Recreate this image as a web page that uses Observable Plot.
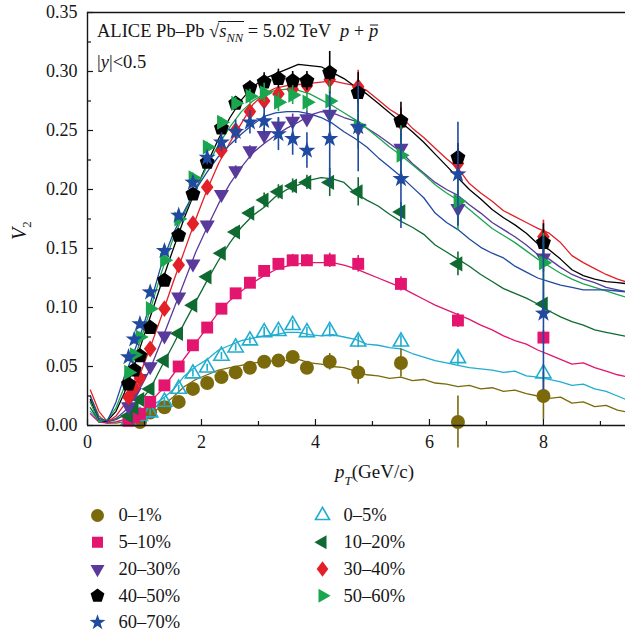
<!DOCTYPE html>
<html>
<head>
<meta charset="utf-8">
<script src="https://cdn.jsdelivr.net/npm/d3@7"></script>
<script src="https://cdn.jsdelivr.net/npm/@observablehq/plot@0.6"></script>
<style>
  body { margin: 0; background: #fff; }
  #chart { width: 625px; }
  #chart svg { display: block; }
</style>
</head>
<body>
<div id="chart"></div>
<script>
const serif = "'Liberation Serif', 'DejaVu Serif', serif";
const ink = "#161616";

// Centrality classes, colours
const labels = ["0–1%", "0–5%", "5–10%", "10–20%", "20–30%", "30–40%", "40–50%", "50–60%", "60–70%"];
const colors = ["#7b6a0b", "#1fadd0", "#e3156f", "#0e6a31", "#59399b", "#e31f27", "#000000", "#1aa64e", "#1f4a9f"];

// pT bin centres of the measured points (GeV/c)
const ptBins = [0.72, 0.82, 0.92, 1.1, 1.35, 1.6, 1.85, 2.1, 2.35, 2.6, 2.85, 3.1, 3.35, 3.6, 3.85, 4.25, 4.75, 5.5, 6.5, 8.0];

// Measured v2 per centrality (null = no point)
const mk01   = [null, null, 0.003, 0.011, 0.0155, 0.020, 0.031, 0.036, 0.041, 0.045, 0.049, 0.054, 0.055, 0.058, 0.049, 0.054, 0.045, 0.053, 0.003, 0.025];
const mk05   = [0.004, null, 0.008, 0.011, 0.020, 0.031, 0.044, 0.049, 0.059, 0.066, 0.072, 0.079, 0.080, 0.085, 0.079, 0.080, 0.071, 0.071, 0.057, 0.044];
const mk510  = [0.004, 0.007, 0.010, 0.020, 0.034, 0.050, 0.068, 0.083, 0.099, 0.112, 0.121, 0.131, 0.137, 0.140, 0.140, 0.140, 0.137, 0.120, 0.089, 0.0745];
const mk1020 = [0.008, 0.015, 0.022, 0.031, 0.055, 0.078, 0.102, 0.126, 0.146, 0.164, 0.180, 0.191, 0.198, 0.203, 0.206, 0.206, 0.198, 0.181, 0.137, 0.103];
const mk2030 = [0.016, 0.028, 0.040, 0.050, 0.076, 0.109, 0.137, 0.170, 0.196, 0.216, 0.233, 0.246, 0.254, 0.258, 0.260, 0.264, 0.252, 0.235, 0.184, 0.142];
const mk3040 = [0.024, 0.032, 0.040, 0.065, 0.099, 0.136, 0.171, 0.202, 0.233, 0.250, 0.266, 0.275, 0.281, 0.285, 0.288, 0.293, 0.287, 0.257, 0.222, 0.160];
const mk4050 = [0.035, 0.047, 0.059, 0.083, 0.123, 0.161, 0.196, 0.223, 0.252, 0.273, 0.286, 0.291, 0.294, 0.292, 0.292, 0.299, 0.282, 0.258, 0.227, 0.155];
const mk5060 = [0.045, 0.060, 0.075, 0.099, 0.140, 0.175, 0.210, 0.236, 0.257, 0.273, 0.279, 0.282, 0.274, 0.280, 0.274, 0.275, 0.254, 0.229, 0.190, 0.138];
const mk6070 = [0.058, 0.073, 0.086, 0.113, 0.148, 0.178, 0.206, 0.227, 0.240, 0.249, 0.257, 0.258, 0.247, 0.243, 0.233, 0.243, 0.253, 0.209, 0.213, 0.095];

// Uncertainties (half length of the error bars)
const er01   = [0.003, 0.003, 0.003, 0.003, 0.003, 0.003, 0.003, 0.003, 0.003, 0.003, 0.004, 0.004, 0.004, 0.005, 0.005, 0.007, 0.010, 0.012, 0.022, 0.020];
const er05   = [0.003, 0.003, 0.003, 0.003, 0.003, 0.003, 0.003, 0.003, 0.003, 0.003, 0.003, 0.004, 0.004, 0.004, 0.004, 0.005, 0.005, 0.005, 0.006, 0.007];
const er510  = [0.003, 0.003, 0.003, 0.003, 0.003, 0.003, 0.003, 0.003, 0.003, 0.003, 0.003, 0.004, 0.004, 0.005, 0.005, 0.006, 0.007, 0.006, 0.006, 0.006];
const er1020 = [0.003, 0.003, 0.003, 0.003, 0.003, 0.003, 0.003, 0.003, 0.003, 0.004, 0.004, 0.006, 0.006, 0.006, 0.006, 0.012, 0.012, 0.008, 0.010, 0.010];
const er2030 = [0.003, 0.003, 0.003, 0.003, 0.003, 0.003, 0.003, 0.003, 0.003, 0.004, 0.004, 0.006, 0.006, 0.006, 0.006, 0.010, 0.012, 0.012, 0.015, 0.012];
const er3040 = [0.003, 0.003, 0.003, 0.003, 0.003, 0.003, 0.003, 0.003, 0.003, 0.004, 0.004, 0.006, 0.006, 0.006, 0.006, 0.010, 0.014, 0.012, 0.013, 0.014];
const er4050 = [0.004, 0.004, 0.004, 0.004, 0.004, 0.004, 0.004, 0.004, 0.004, 0.005, 0.006, 0.008, 0.008, 0.008, 0.008, 0.018, 0.017, 0.016, 0.012, 0.016];
const er5060 = [0.004, 0.004, 0.004, 0.004, 0.004, 0.004, 0.004, 0.004, 0.004, 0.005, 0.006, 0.008, 0.008, 0.008, 0.008, 0.017, 0.020, 0.025, 0.025, 0.025];
const er6070 = [0.004, 0.004, 0.004, 0.004, 0.004, 0.004, 0.005, 0.006, 0.008, 0.010, 0.010, 0.012, 0.014, 0.014, 0.015, 0.040, 0.038, 0.042, 0.044, 0.065];

// Model curves, sampled in pT
const linePt = [0.05, 0.2, 0.35, 0.5, 0.65, 0.8, 0.95, 1.1, 1.3, 1.5, 1.7, 1.9, 2.1, 2.3, 2.5, 2.7, 2.9, 3.1, 3.3, 3.5, 3.7, 3.9, 4.1, 4.3, 4.5, 4.7, 4.9, 5.1, 5.3, 5.5, 5.7, 5.9, 6.1, 6.3, 6.5, 6.7, 6.9, 7.1, 7.3, 7.5, 7.7, 7.9, 8.1, 8.3, 8.5, 8.7, 8.9, 9.1, 9.3, 9.5];
const ln01   = [0.025, 0.008, 0.002, 0.002, 0.003, 0.005, 0.007, 0.010, 0.016, 0.024, 0.033, 0.039, 0.043, 0.047, 0.049, 0.051, 0.053, 0.054, 0.055, 0.055, 0.056, 0.053, 0.052, 0.050, 0.049, 0.046, 0.043, 0.042, 0.040, 0.041, 0.038, 0.039, 0.036, 0.035, 0.033, 0.034, 0.031, 0.032, 0.029, 0.030, 0.027, 0.025, 0.023, 0.024, 0.019, 0.020, 0.016, 0.017, 0.013, 0.011];
const ln05   = [0.012, 0.004, 0.002, 0.003, 0.005, 0.008, 0.012, 0.016, 0.022, 0.030, 0.042, 0.050, 0.056, 0.064, 0.068, 0.072, 0.074, 0.076, 0.077, 0.079, 0.079, 0.077, 0.076, 0.077, 0.075, 0.073, 0.069, 0.068, 0.066, 0.065, 0.061, 0.058, 0.055, 0.053, 0.051, 0.049, 0.048, 0.047, 0.045, 0.046, 0.042, 0.041, 0.039, 0.037, 0.034, 0.035, 0.031, 0.029, 0.025, 0.021];
const ln510  = [0.010, 0.003, 0.002, 0.003, 0.005, 0.008, 0.012, 0.020, 0.030, 0.043, 0.057, 0.070, 0.083, 0.096, 0.106, 0.114, 0.121, 0.127, 0.132, 0.135, 0.137, 0.138, 0.138, 0.138, 0.136, 0.133, 0.129, 0.125, 0.121, 0.117, 0.112, 0.107, 0.102, 0.098, 0.094, 0.090, 0.085, 0.081, 0.076, 0.072, 0.069, 0.064, 0.060, 0.056, 0.052, 0.053, 0.049, 0.046, 0.043, 0.041];
const ln1020 = [0.015, 0.004, 0.003, 0.005, 0.009, 0.015, 0.022, 0.031, 0.050, 0.068, 0.087, 0.105, 0.123, 0.140, 0.155, 0.168, 0.178, 0.185, 0.194, 0.200, 0.204, 0.208, 0.210, 0.209, 0.206, 0.197, 0.191, 0.186, 0.179, 0.173, 0.168, 0.162, 0.153, 0.147, 0.141, 0.135, 0.128, 0.122, 0.116, 0.112, 0.108, 0.103, 0.097, 0.092, 0.088, 0.085, 0.081, 0.079, 0.077, 0.075];
const ln2030 = [0.020, 0.005, 0.003, 0.006, 0.012, 0.022, 0.034, 0.048, 0.072, 0.097, 0.122, 0.147, 0.168, 0.188, 0.205, 0.219, 0.231, 0.239, 0.246, 0.252, 0.257, 0.263, 0.266, 0.265, 0.261, 0.258, 0.252, 0.246, 0.239, 0.232, 0.222, 0.214, 0.206, 0.200, 0.195, 0.187, 0.180, 0.172, 0.166, 0.160, 0.153, 0.145, 0.141, 0.134, 0.128, 0.124, 0.121, 0.117, 0.115, 0.113];
const ln3040 = [0.030, 0.012, 0.003, 0.008, 0.018, 0.030, 0.047, 0.066, 0.093, 0.121, 0.148, 0.175, 0.200, 0.222, 0.240, 0.256, 0.272, 0.281, 0.286, 0.288, 0.289, 0.290, 0.291, 0.292, 0.290, 0.288, 0.284, 0.276, 0.268, 0.262, 0.252, 0.244, 0.235, 0.226, 0.218, 0.205, 0.197, 0.190, 0.182, 0.177, 0.172, 0.167, 0.163, 0.155, 0.144, 0.138, 0.133, 0.128, 0.124, 0.121];
const ln4050 = [0.022, 0.003, 0.004, 0.012, 0.028, 0.048, 0.070, 0.092, 0.121, 0.149, 0.176, 0.200, 0.222, 0.243, 0.261, 0.276, 0.287, 0.294, 0.298, 0.302, 0.306, 0.305, 0.304, 0.299, 0.294, 0.287, 0.281, 0.273, 0.265, 0.257, 0.249, 0.240, 0.230, 0.220, 0.210, 0.200, 0.192, 0.183, 0.176, 0.170, 0.163, 0.154, 0.149, 0.141, 0.132, 0.127, 0.124, 0.122, 0.121, 0.120];
const ln5060 = [0.020, 0.003, 0.005, 0.015, 0.033, 0.053, 0.075, 0.098, 0.130, 0.158, 0.180, 0.200, 0.220, 0.238, 0.253, 0.266, 0.275, 0.281, 0.284, 0.285, 0.284, 0.281, 0.276, 0.271, 0.265, 0.259, 0.252, 0.244, 0.236, 0.229, 0.221, 0.213, 0.204, 0.197, 0.191, 0.183, 0.175, 0.167, 0.161, 0.155, 0.148, 0.141, 0.135, 0.129, 0.124, 0.120, 0.117, 0.114, 0.111, 0.108];
const ln6070 = [0.025, 0.006, 0.004, 0.020, 0.042, 0.060, 0.080, 0.103, 0.137, 0.162, 0.182, 0.200, 0.215, 0.228, 0.238, 0.247, 0.255, 0.262, 0.265, 0.266, 0.266, 0.264, 0.261, 0.256, 0.249, 0.243, 0.236, 0.227, 0.219, 0.211, 0.202, 0.193, 0.180, 0.172, 0.166, 0.158, 0.151, 0.146, 0.142, 0.135, 0.130, 0.125, 0.122, 0.119, 0.117, 0.115, 0.115, 0.115, 0.114, 0.113];

// Axis ticks
const yTicks = [0, 0.05, 0.10, 0.15, 0.20, 0.25, 0.30, 0.35];
const yMinor = [0.025, 0.075, 0.125, 0.175, 0.225, 0.275, 0.325];
const xTicks = [0, 2, 4, 6, 8];
const xMinor = [1, 3, 5, 7, 9];

// Marker shapes drawn in units of the dot radius
function polygon(pts) {
  return {draw(ctx, size) {
    const r = Math.sqrt(size / Math.PI);
    pts.forEach(([a, b], i) => i ? ctx.lineTo(a * r, b * r) : ctx.moveTo(a * r, b * r));
    ctx.closePath();
  }};
}
const symCircle = {draw(ctx, size) { const r = Math.sqrt(size / Math.PI); ctx.moveTo(r, 0); ctx.arc(0, 0, r, 0, 2 * Math.PI); }};
const symSquare = polygon([[-0.85, -0.85], [0.85, -0.85], [0.85, 0.85], [-0.85, 0.85]]);
const symTriUp = polygon([[0, -1.25], [1.08, 0.62], [-1.08, 0.62]]);
const symTriDown = polygon([[0, 1.25], [-1.08, -0.62], [1.08, -0.62]]);
const symTriLeft = polygon([[-1.25, 0], [0.62, -1.08], [0.62, 1.08]]);
const symTriRight = polygon([[1.25, 0], [-0.62, -1.08], [-0.62, 1.08]]);
const symDiamond = polygon([[0, -1.2], [0.9, 0], [0, 1.2], [-0.9, 0]]);
const symPentagon = polygon(d3.range(5).map(k => {
  const a = -Math.PI / 2 + k * 2 * Math.PI / 5;
  return [1.12 * Math.cos(a), 1.12 * Math.sin(a)];
}));
const symStar = polygon(d3.range(10).map(k => {
  const a = -Math.PI / 2 + k * Math.PI / 5, rr = k % 2 ? 0.5 : 1.28;
  return [rr * Math.cos(a), rr * Math.sin(a)];
}));

const markers = [mk01, mk05, mk510, mk1020, mk2030, mk3040, mk4050, mk5060, mk6070];
const errors = [er01, er05, er510, er1020, er2030, er3040, er4050, er5060, er6070];
const curves = [ln01, ln05, ln510, ln1020, ln2030, ln3040, ln4050, ln5060, ln6070];
const symbols = [symCircle, symTriUp, symSquare, symTriLeft, symTriDown, symDiamond, symPentagon, symTriRight, symStar];
const hollow = [false, true, false, false, false, false, false, false, false];

const series = labels.map((label, i) => ({
  label, color: colors[i], symbol: symbols[i], hollow: hollow[i],
  points: ptBins.map((pt, j) => ({pt, v: markers[i][j], e: errors[i][j]})).filter(d => d.v != null),
  curve: linePt.map((pt, j) => ({pt, v: curves[i][j]}))
}));

const marks = [];
for (const s of series) {
  marks.push(Plot.line(s.curve, {x: "pt", y: "v", stroke: s.color, strokeWidth: 1.3, clip: true}));
}
for (const s of series) {
  marks.push(Plot.ruleX(s.points, {x: "pt", y1: d => d.v - d.e, y2: d => d.v + d.e, stroke: s.color, strokeWidth: 1.6}));
  marks.push(Plot.dot(s.points, {
    x: "pt", y: "v", r: 7, symbol: s.symbol,
    fill: s.hollow ? "none" : s.color,
    stroke: s.hollow ? s.color : "none",
    strokeWidth: 1.6
  }));
}

const chart = Plot.plot({
  width: 625,
  height: 490,
  marginLeft: 87,
  marginRight: 0,
  marginTop: 12,
  marginBottom: 65,
  style: {fontFamily: serif, background: "#fff", color: ink, overflow: "visible"},
  x: {domain: [0, 9.44]},
  y: {domain: [0, 0.35]},
  marks: [
    ...marks,
    Plot.ruleY([0.35], {stroke: ink, strokeWidth: 1.4}),
    Plot.ruleY([0], {stroke: ink, strokeWidth: 1.4}),
    Plot.ruleX([0], {stroke: ink, strokeWidth: 1.4}),
    Plot.axisY({ticks: yTicks, tickSize: -6, tickPadding: 16, tickFormat: d3.format(".2f"), fontSize: 18, label: null, strokeWidth: 1.2}),
    Plot.axisY({ticks: yMinor, tickSize: -4, tickFormat: () => "", label: null, strokeWidth: 1.2}),
    Plot.axisX({ticks: xTicks, tickSize: -6, tickPadding: 16, tickFormat: d3.format("d"), fontSize: 18, label: null, strokeWidth: 1.2}),
    Plot.axisX({ticks: xMinor, tickSize: -4, tickFormat: () => "", label: null, strokeWidth: 1.2})
  ]
});

const host = document.getElementById("chart");
host.appendChild(chart);

// Rich text (italics, subscripts, overlines) added on top of the plot
function richText(parent, x, y, parts, size, attrs = {}) {
  const t = parent.append("text")
    .attr("x", x).attr("y", y)
    .attr("text-anchor", "start")
    .attr("font-family", serif).attr("font-size", size)
    .attr("fill", ink).style("white-space", "pre");
  for (const [k, v] of Object.entries(attrs)) t.attr(k, v);
  let shift = 0, idx = 0;
  const spans = [];
  for (const p of parts) {
    const ts = t.append("tspan").text(p.text);
    if (p.italic) ts.attr("font-style", "italic");
    const want = p.sub ? p.sub : 0;
    if (want !== shift) { ts.attr("dy", want - shift); shift = want; }
    if (p.size) ts.attr("font-size", p.size);
    spans.push({start: idx, end: idx + p.text.length - 1, over: p.over});
    idx += p.text.length;
  }
  // overlines
  const node = t.node();
  for (const s of spans) {
    if (!s.over) continue;
    const x0 = node.getStartPositionOfChar(s.start).x;
    const x1 = node.getEndPositionOfChar(s.end).x;
    parent.append("line")
      .attr("x1", x0 + s.over.pad0).attr("x2", x1 + s.over.pad1)
      .attr("y1", y - s.over.rise).attr("y2", y - s.over.rise)
      .attr("stroke", ink).attr("stroke-width", 1);
  }
  return t;
}

const svg = d3.select(chart);
richText(svg, 97, 37, [
  {text: "ALICE Pb–Pb √"},
  {text: "s", italic: true, over: {rise: 15.5, pad0: -1, pad1: 0}},
  {text: "NN", italic: true, sub: 5, size: 12.5, over: {rise: 15.5, pad0: 0, pad1: 1}},
  {text: " = 5.02 TeV  "},
  {text: "p", italic: true},
  {text: " + "},
  {text: "p", italic: true, over: {rise: 12, pad0: 1, pad1: 0}}
], 18.5);
richText(svg, 97, 68, [
  {text: "|"}, {text: "y", italic: true}, {text: "|<0.5"}
], 18.5);
richText(svg, 335, 478, [
  {text: "p", italic: true},
  {text: "T", italic: true, sub: 7, size: 13},
  {text: "(GeV/c)"}
], 19);
richText(svg, 0, 0, [
  {text: "V", italic: true},
  {text: "2", sub: 5, size: 13}
], 20, {transform: "translate(26,240) rotate(-90)"});

// Legend below the plot
const legendRows = series.map((s, i) => ({...s, col: i % 2, row: Math.floor(i / 2)}));
const legend = Plot.plot({
  width: 625,
  height: 143,
  margin: 0,
  style: {fontFamily: serif, background: "#fff", color: ink},
  x: {domain: [0, 1], range: [97, 322], axis: null},
  y: {domain: [0, 4], range: [25, 132], axis: null},
  marks: [
    ...legendRows.map(s => Plot.dot([s], {
      x: "col", y: "row", r: 6.5, symbol: s.symbol,
      fill: s.hollow ? "none" : s.color,
      stroke: s.hollow ? s.color : "none",
      strokeWidth: 1.6
    })),
    Plot.text(legendRows, {x: "col", y: "row", text: "label", dx: 21, textAnchor: "start", fontSize: 18.5, fill: ink})
  ]
});
host.appendChild(legend);
</script>
</body>
</html>
